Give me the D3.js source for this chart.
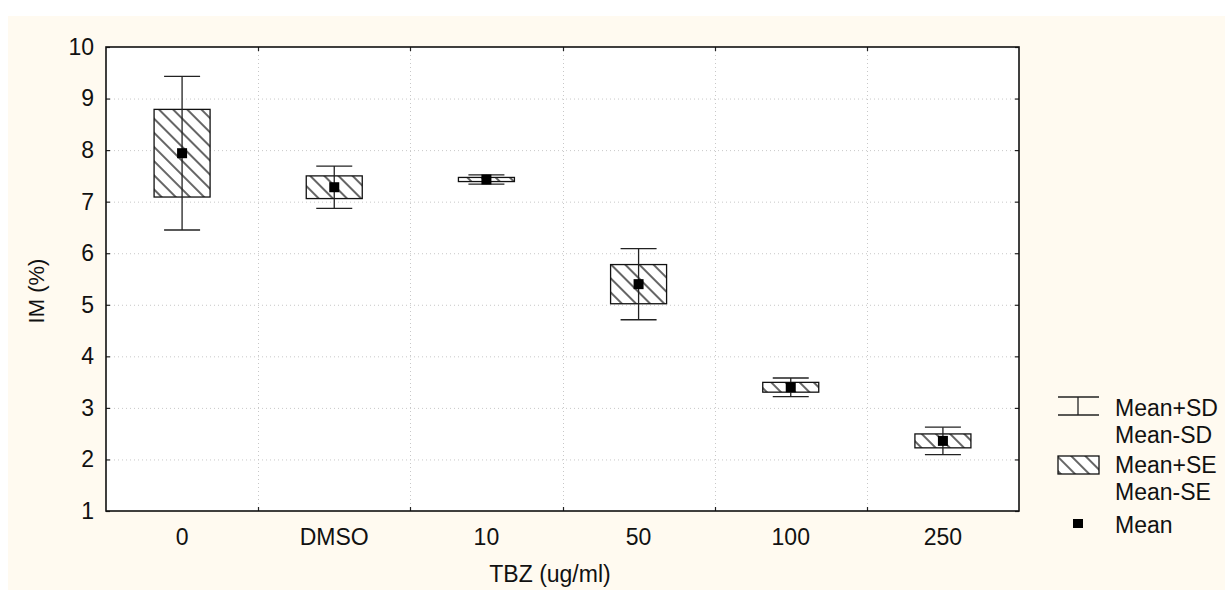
<!DOCTYPE html>
<html>
<head>
<meta charset="utf-8">
<script src="https://cdn.jsdelivr.net/npm/d3@7"></script>
<style>
  html, body { margin: 0; padding: 0; background: #ffffff; }
  svg { display: block; }
  text { font-family: "Liberation Sans", Arial, sans-serif; fill: #111; }
</style>
</head>
<body>
<svg id="chart" width="1225" height="590"></svg>
<script>
// Group labels and summary statistics for IM (%)
const categories = ["0", "DMSO", "10", "50", "100", "250"];
const means = [7.94, 7.28, 7.43, 5.40, 3.40, 2.36];
const se    = [0.85, 0.22, 0.04, 0.38, 0.095, 0.135];
const sd    = [1.49, 0.41, 0.09, 0.69, 0.18, 0.265];
const yTicks = [1, 2, 3, 4, 5, 6, 7, 8, 9, 10];

const W = 1225, H = 590;
const plot = { left: 106, right: 1019, top: 47, bottom: 511 };
const FS = "23px";

const svg = d3.select("#chart");

// panel background
svg.append("rect")
  .attr("x", 8).attr("y", 16)
  .attr("width", W - 8).attr("height", H - 16)
  .attr("fill", "#fffaf0");

const x = d3.scaleBand().domain(categories).range([plot.left, plot.right]).paddingInner(0).paddingOuter(0);
const y = d3.scaleLinear().domain([1, 10]).range([plot.bottom, plot.top]);

// hatch pattern for the SE boxes
const defs = svg.append("defs");
const pat = defs.append("pattern")
  .attr("id", "hatch")
  .attr("patternUnits", "userSpaceOnUse")
  .attr("width", 10).attr("height", 10)
  .attr("patternTransform", "rotate(45)");
pat.append("rect").attr("width", 10).attr("height", 10).attr("fill", "#ffffff");
pat.append("line")
  .attr("x1", 0).attr("x2", 10).attr("y1", 5).attr("y2", 5)
  .attr("stroke", "#333").attr("stroke-width", 1.5);

// plot area
svg.append("rect")
  .attr("x", plot.left).attr("y", plot.top)
  .attr("width", plot.right - plot.left).attr("height", plot.bottom - plot.top)
  .attr("fill", "#ffffff");

// dotted grid
const grid = svg.append("g").attr("stroke", "#c8c8c8").attr("stroke-width", 1).attr("stroke-dasharray", "1,3");
grid.selectAll("line.h").data(yTicks.slice(1, -1)).join("line")
  .attr("x1", plot.left).attr("x2", plot.right)
  .attr("y1", d => y(d) + 0.5).attr("y2", d => y(d) + 0.5);
const bounds = categories.slice(1).map(c => x(c));
grid.selectAll("line.v").data(bounds).join("line")
  .attr("y1", plot.top).attr("y2", plot.bottom)
  .attr("x1", d => Math.round(d) + 0.5).attr("x2", d => Math.round(d) + 0.5);

// axes with inward ticks
const yAxisL = d3.axisLeft(y).tickValues(yTicks).tickSize(-4).tickPadding(12).tickFormat(d3.format("d"));
const gL = svg.append("g").attr("transform", `translate(${plot.left},0)`).call(yAxisL);
gL.select(".domain").remove();
gL.selectAll("text").style("font-size", FS).attr("fill", "#111");
gL.selectAll("line").attr("stroke", "#222").attr("stroke-width", 1.2);

const yAxisR = d3.axisRight(y).tickValues(yTicks).tickSize(-4).tickFormat("");
const gR = svg.append("g").attr("transform", `translate(${plot.right},0)`).call(yAxisR);
gR.select(".domain").remove();
gR.selectAll("line").attr("stroke", "#222").attr("stroke-width", 1.2);

const xAxisB = d3.axisBottom(x).tickSize(0).tickPadding(18);
const gB = svg.append("g").attr("transform", `translate(0,${plot.bottom})`).call(xAxisB);
gB.select(".domain").remove();
gB.selectAll("text").style("font-size", FS).attr("fill", "#111");

const tickB = svg.append("g").attr("stroke", "#222").attr("stroke-width", 1.2);
tickB.selectAll("line.b").data(bounds).join("line")
  .attr("x1", d => Math.round(d) + 0.5).attr("x2", d => Math.round(d) + 0.5)
  .attr("y1", plot.bottom).attr("y2", plot.bottom - 4);
tickB.selectAll("line.t").data(bounds).join("line")
  .attr("x1", d => Math.round(d) + 0.5).attr("x2", d => Math.round(d) + 0.5)
  .attr("y1", plot.top).attr("y2", plot.top + 4);

// frame
svg.append("rect")
  .attr("x", plot.left).attr("y", plot.top)
  .attr("width", plot.right - plot.left).attr("height", plot.bottom - plot.top)
  .attr("fill", "none").attr("stroke", "#111").attr("stroke-width", 1.6);

// boxes, whiskers, means
const boxW = 56, capW = 36, markS = 10;
const rows = categories.map((c, i) => ({ c, m: means[i], se: se[i], sd: sd[i] }));
const cx = d => x(d.c) + x.bandwidth() / 2;

const g = svg.append("g");
g.selectAll("rect.box").data(rows).join("rect")
  .attr("x", d => cx(d) - boxW / 2)
  .attr("y", d => y(d.m + d.se))
  .attr("width", boxW)
  .attr("height", d => y(d.m - d.se) - y(d.m + d.se))
  .attr("fill", "url(#hatch)")
  .attr("stroke", "#111").attr("stroke-width", 1.3);

const wk = g.append("g").attr("stroke", "#222").attr("stroke-width", 1.3);
wk.selectAll("line.stem").data(rows).join("line")
  .attr("x1", cx).attr("x2", cx)
  .attr("y1", d => y(d.m + d.sd)).attr("y2", d => y(d.m - d.sd));
wk.selectAll("line.capT").data(rows).join("line")
  .attr("x1", d => cx(d) - capW / 2).attr("x2", d => cx(d) + capW / 2)
  .attr("y1", d => y(d.m + d.sd)).attr("y2", d => y(d.m + d.sd));
wk.selectAll("line.capB").data(rows).join("line")
  .attr("x1", d => cx(d) - capW / 2).attr("x2", d => cx(d) + capW / 2)
  .attr("y1", d => y(d.m - d.sd)).attr("y2", d => y(d.m - d.sd));

g.selectAll("rect.mean").data(rows).join("rect")
  .attr("x", d => cx(d) - markS / 2)
  .attr("y", d => y(d.m) - markS / 2)
  .attr("width", markS).attr("height", markS)
  .attr("fill", "#000");

// axis titles
svg.append("text")
  .attr("x", 550).attr("y", 582)
  .attr("text-anchor", "middle")
  .style("font-size", FS)
  .text("TBZ (ug/ml)");
svg.append("text")
  .attr("transform", "translate(44,291) rotate(-90)")
  .attr("text-anchor", "middle")
  .style("font-size", "22px")
  .text("IM (%)");

// legend
const lg = svg.append("g");
const lx0 = 1058, lx1 = 1099, lmid = 1078;
lg.append("line").attr("x1", lx0).attr("x2", lx1).attr("y1", 397).attr("y2", 397).attr("stroke", "#222").attr("stroke-width", 1.3);
lg.append("line").attr("x1", lx0).attr("x2", lx1).attr("y1", 415).attr("y2", 415).attr("stroke", "#222").attr("stroke-width", 1.3);
lg.append("line").attr("x1", lmid).attr("x2", lmid).attr("y1", 397).attr("y2", 415).attr("stroke", "#222").attr("stroke-width", 1.3);
lg.append("rect").attr("x", lx0).attr("y", 456).attr("width", lx1 - lx0).attr("height", 18)
  .attr("fill", "url(#hatch)").attr("stroke", "#111").attr("stroke-width", 1.3);
lg.append("rect").attr("x", 1073).attr("y", 519).attr("width", 10).attr("height", 9).attr("fill", "#000");

const legendText = [
  { t: "Mean+SD", y: 416 },
  { t: "Mean-SD", y: 443 },
  { t: "Mean+SE", y: 473 },
  { t: "Mean-SE", y: 500 },
  { t: "Mean", y: 533 }
];
lg.selectAll("text").data(legendText).join("text")
  .attr("x", 1115).attr("y", d => d.y)
  .style("font-size", FS)
  .text(d => d.t);
</script>
</body>
</html>
